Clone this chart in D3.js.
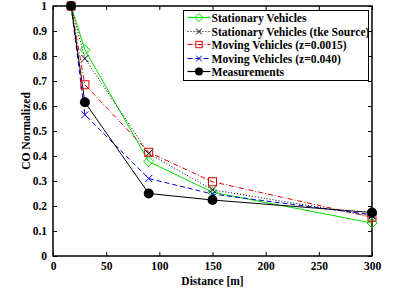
<!DOCTYPE html>
<html lang="en">
<head>
<meta charset="UTF-8">
<title>CO Normalized vs Distance</title>
<style>
  body { margin: 0; background: #fff; }
  text { font-family: "Liberation Serif", "Times New Roman", serif; font-weight: bold; }
</style>
</head>
<body>
<svg></svg>
<script src="https://cdn.jsdelivr.net/npm/d3@7/dist/d3.min.js"></script>
<script>
    // distances [m]
    const distance = [17, 30, 90, 150, 300];
    const stationary = [1, 0.825, 0.378, 0.255, 0.132];
    const stationaryTke = [1, 0.79, 0.41, 0.265, 0.16];
    const movingLow = [1, 0.685, 0.415, 0.297, 0.155];
    const movingHigh = [1, 0.565, 0.31, 0.248, 0.165];
    const measurements = [1, 0.615, 0.25, 0.224, 0.174];

    const xTicks = [0, 50, 100, 150, 200, 250, 300];
    const yTicks = [0, 0.1, 0.2, 0.3, 0.4, 0.5, 0.6, 0.7, 0.8, 0.9, 1];

    const series = [
        {name: "Stationary Vehicles", values: stationary, color: "#00e000", dash: null, marker: "diamond"},
        {name: "Stationary Vehicles (tke Source)", values: stationaryTke, color: "#000", dash: "1,2", marker: "x"},
        {name: "Moving Vehicles (z=0.0015)", values: movingLow, color: "#e00000", dash: "5,2,1,2", marker: "square"},
        {name: "Moving Vehicles (z=0.040)", values: movingHigh, color: "#0000e0", dash: "5,3", marker: "x"},
        {name: "Measurements", values: measurements, color: "#000", dash: null, marker: "dot"}
    ];

    const width = 399, height = 292;
    const margin = {left: 53, right: 27, top: 6, bottom: 36};

    const svg = d3.select("svg").attr("width", width).attr("height", height);

    const x = d3.scaleLinear().domain([0, 300]).range([margin.left, width - margin.right]);
    const y = d3.scaleLinear().domain([0, 1]).range([height - margin.bottom, margin.top]);

    // frame and inward ticks
    svg.append("rect")
        .attr("x", x(0)).attr("y", y(1))
        .attr("width", x(300) - x(0)).attr("height", y(0) - y(1))
        .attr("fill", "none").attr("stroke", "#000").attr("stroke-width", 1.5);

    const tickFmt = d => d === 0 ? "0" : d === 1 ? "1" : d3.format(".1f")(d);
    const axes = [
        d3.axisBottom(x).tickValues(xTicks).tickSizeInner(-4).tickSizeOuter(0).tickPadding(6),
        d3.axisTop(x).tickValues(xTicks).tickSizeInner(-4).tickSizeOuter(0).tickFormat(""),
        d3.axisLeft(y).tickValues(yTicks).tickSizeInner(-4).tickSizeOuter(0).tickPadding(6).tickFormat(tickFmt),
        d3.axisRight(y).tickValues(yTicks).tickSizeInner(-4).tickSizeOuter(0).tickFormat("")
    ];
    const pos = [`translate(0,${y(0)})`, `translate(0,${y(1)})`, `translate(${x(0)},0)`, `translate(${x(300)},0)`];
    axes.forEach((a, i) => {
        const g = svg.append("g").attr("transform", pos[i]).call(a);
        g.select(".domain").remove();
        g.selectAll("text").style("font-family", "Liberation Serif").style("font-weight", "bold")
            .style("font-size", "11.5px").attr("fill", "#000");
    });

    // lines
    const line = d3.line().x((d, i) => x(distance[i])).y(d => y(d));
    series.forEach(s => {
        svg.append("path")
            .datum(s.values)
            .attr("d", line)
            .attr("fill", "none")
            .attr("stroke", s.color)
            .attr("stroke-width", 1)
            .attr("stroke-dasharray", s.dash);
    });

    function marker(g, type, color, k) {
        k = k || 1;
        if (type === "diamond") {
            g.append("path").attr("d", `M0,${-5 * k}L${5 * k},0L0,${5 * k}L${-5 * k},0Z`).attr("fill", "none").attr("stroke", color);
        } else if (type === "square") {
            g.append("rect").attr("x", -4 * k).attr("y", -4 * k).attr("width", 8 * k).attr("height", 8 * k)
                .attr("fill", "none").attr("stroke", color);
        } else if (type === "x") {
            g.append("path").attr("d", `M${-3.5 * k},${-3.5 * k}L${3.5 * k},${3.5 * k}M${-3.5 * k},${3.5 * k}L${3.5 * k},${-3.5 * k}`).attr("stroke", color);
        } else {
            g.append("circle").attr("r", 5 * k).attr("fill", color);
        }
    }

    series.forEach(s => {
        s.values.forEach((v, i) => {
            const g = svg.append("g").attr("transform", `translate(${x(distance[i])},${y(v)})`);
            marker(g, s.marker, s.color);
        });
    });

    // axis labels
    svg.append("text")
        .attr("x", (x(0) + x(300)) / 2).attr("y", height - 7)
        .attr("text-anchor", "middle").style("font-size", "11.5px")
        .text("Distance [m]");
    svg.append("text")
        .attr("transform", `translate(30,${(y(0) + y(1)) / 2}) rotate(-90)`)
        .attr("text-anchor", "middle").style("font-size", "11.5px")
        .text("CO Normalized");

    // legend
    const lg = svg.append("g").attr("transform", "translate(183.5,10.5)");
    lg.append("rect").attr("width", 185).attr("height", 70)
        .attr("fill", "#fff").attr("stroke", "#000").attr("stroke-width", 1);
    series.forEach((s, i) => {
        const yy = Math.round(7 + i * 13.5);
        const row = lg.append("g").attr("transform", `translate(0,${yy})`);
        row.append("line").attr("x1", 4).attr("x2", 27)
            .attr("stroke", s.color).attr("stroke-width", 1.2).attr("stroke-dasharray", s.dash);
        marker(row.append("g").attr("transform", "translate(15.5,0)"), s.marker, s.color, 0.8);
        row.append("text").attr("x", 28).attr("y", 4)
            .style("font-size", "11.6px").text(s.name);
    });
</script>
</body>
</html>
